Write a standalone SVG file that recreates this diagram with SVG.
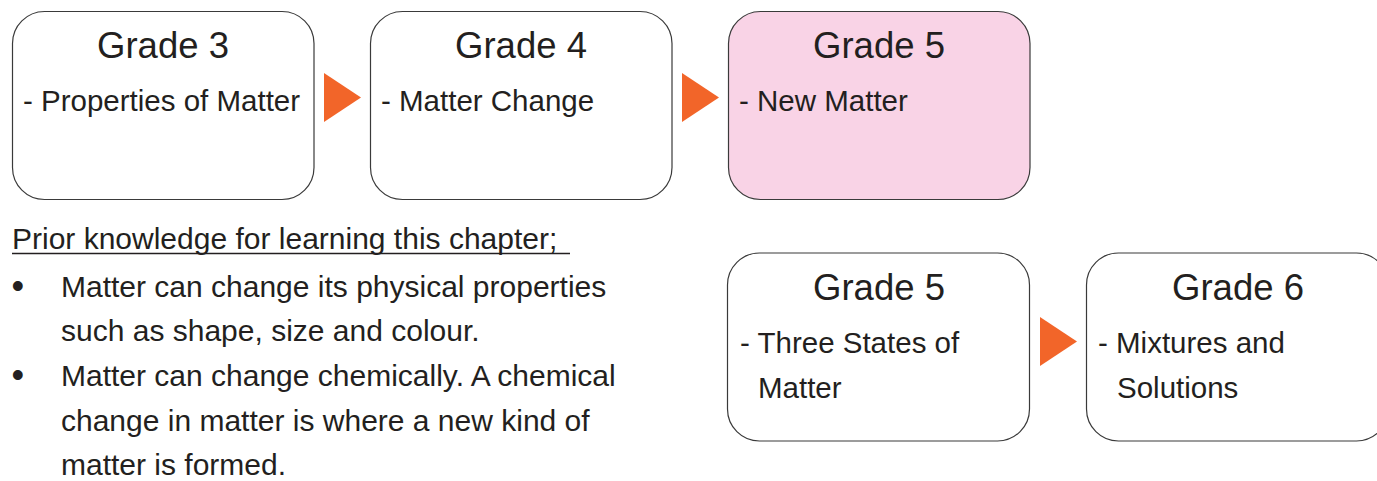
<svg xmlns="http://www.w3.org/2000/svg" width="1377" height="481" viewBox="0 0 1377 481">
<style>
.box{fill:#ffffff;stroke:#3a3a3a;stroke-width:1.2}
.pink{fill:#f9d3e6}
.t{font-family:"Liberation Sans",Arial,sans-serif;fill:#231f20}
.title{font-size:36.5px;text-anchor:middle}
.item{font-size:29.5px}
.body{font-size:30px}
.bullet{font-size:36px}
.arrow{fill:#f26529}
</style>
<rect width="1377" height="481" fill="#ffffff"/>
<g id="grade3">
<rect class="box" x="12.5" y="11.5" width="301.5" height="188" rx="32" ry="32"/>
<text class="t title" x="163" y="58">Grade 3</text>
<text class="t item" x="23" y="111">- Properties of Matter</text>
</g>
<g id="grade4">
<rect class="box" x="370.5" y="11.5" width="301.5" height="188" rx="32" ry="32"/>
<text class="t title" x="521" y="58">Grade 4</text>
<text class="t item" x="381" y="111">- Matter Change</text>
</g>
<g id="grade5-new">
<rect class="box pink" x="728.5" y="11.5" width="301.5" height="188" rx="32" ry="32"/>
<text class="t title" x="879" y="58">Grade 5</text>
<text class="t item" x="739" y="111">- New Matter</text>
</g>
<g id="grade5-states">
<rect class="box" x="727.5" y="253" width="302" height="188" rx="32" ry="32"/>
<text class="t title" x="879" y="300">Grade 5</text>
<text class="t item" x="740" y="353">- Three States of</text>
<text class="t item" x="758" y="398">Matter</text>
</g>
<g id="grade6">
<rect class="box" x="1086.5" y="253" width="302" height="188" rx="32" ry="32"/>
<text class="t title" x="1238" y="300">Grade 6</text>
<text class="t item" x="1098" y="353">- Mixtures and</text>
<text class="t item" x="1117" y="398">Solutions</text>
</g>
<g id="connectors">
<polygon class="arrow" points="324,73 361,97.5 324,122"/>
<polygon class="arrow" points="682,73 719,97.5 682,122"/>
<polygon class="arrow" points="1040,317 1077,341.5 1040,366"/>
</g>
<g id="prior-knowledge">
<text class="t body" x="12" y="249">Prior knowledge for learning this chapter;</text>
<line x1="12" y1="253.5" x2="570" y2="253.5" stroke="#231f20" stroke-width="1.6"/>
<text class="t bullet" x="11.5" y="298">•</text>
<text class="t body" x="61" y="297">Matter can change its physical properties</text>
<text class="t body" x="61" y="341">such as shape, size and colour.</text>
<text class="t bullet" x="11.5" y="387">•</text>
<text class="t body" x="61" y="386">Matter can change chemically. A chemical</text>
<text class="t body" x="61" y="431">change in matter is where a new kind of</text>
<text class="t body" x="61" y="475">matter is formed.</text>
</g>
</svg>
